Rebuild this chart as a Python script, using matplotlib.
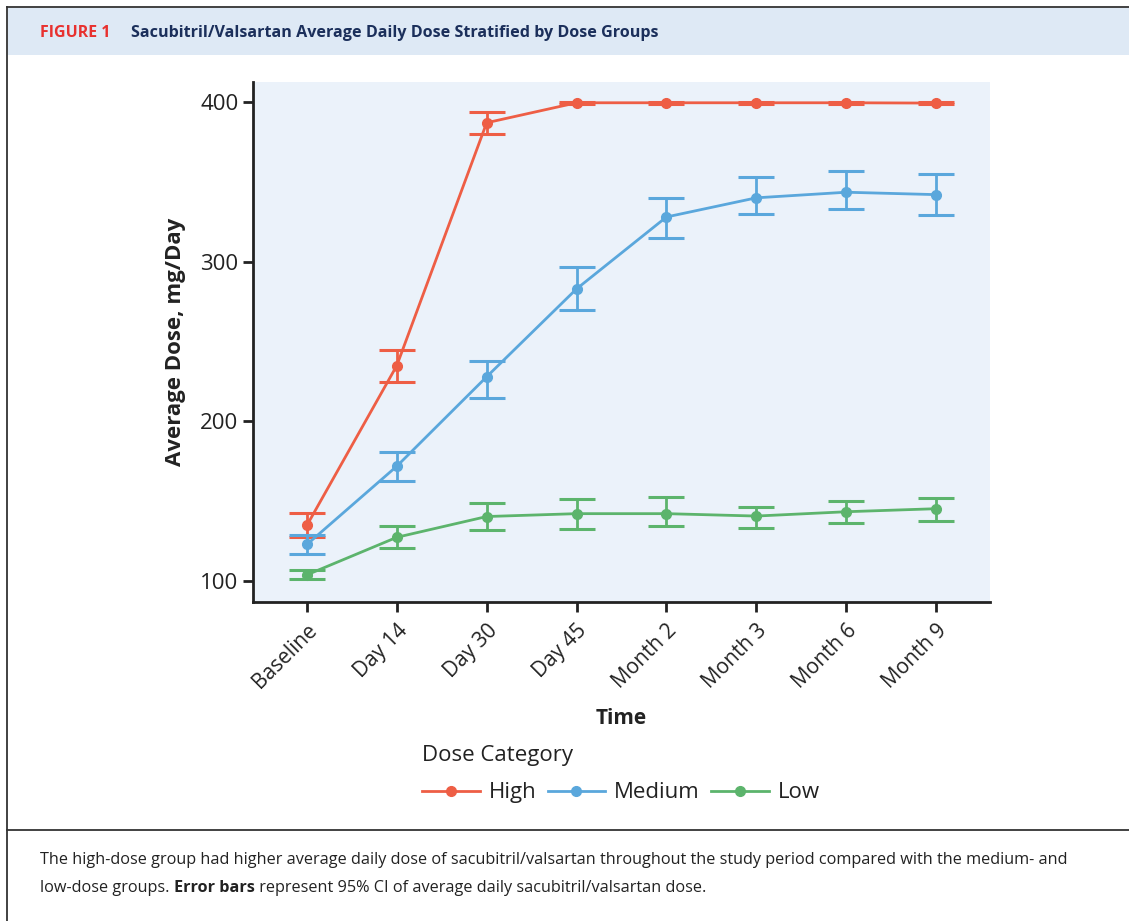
import matplotlib.pyplot as plt
from matplotlib.lines import Line2D
from matplotlib.patches import Rectangle

plt.rcParams['font.family'] = ['Open Sans', 'DejaVu Sans']

timepoints = ["Baseline", "Day 14", "Day 30", "Day 45", "Month 2", "Month 3", "Month 6", "Month 9"]

high_mean = [135, 235, 387, 399.5, 399.5, 399.5, 399.5, 399.3]
high_lo = [128, 225, 380, 398.8, 398.8, 398.8, 398.8, 398.6]
high_hi = [143, 245, 394, 400.2, 400.2, 400.2, 400.2, 400.0]

medium_mean = [123, 172, 228, 283, 328, 340, 343.5, 342]
medium_lo = [117, 163, 215, 270, 315, 330, 333, 329.5]
medium_hi = [129, 181, 238, 297, 340, 353, 356.5, 355]

low_mean = [104, 127.5, 140.5, 142.3, 142.3, 140.8, 143.5, 145.4]
low_lo = [101.3, 121, 132, 133, 134.8, 133.5, 136.2, 137.8]
low_hi = [107, 134.3, 149, 151.4, 152.5, 146.7, 150.2, 152.2]

series = [
    ("High", high_mean, high_lo, high_hi, "#EE5E45"),
    ("Medium", medium_mean, medium_lo, medium_hi, "#5AA7DC"),
    ("Low", low_mean, low_lo, low_hi, "#5CB46C"),
]

fig = plt.figure(figsize=(11.29, 9.21), dpi=100)

# frame and header band
W, H = 1129, 921
def fx(px):
    return px / W
def fy(py):
    return 1 - py / H

fig.patches.append(Rectangle((fx(8), fy(55)), 1, fy(8) - fy(55), transform=fig.transFigure,
                             facecolor="#DEE9F5", edgecolor="none", zorder=0))
for l in [Line2D([fx(7), 1], [fy(7), fy(7)]),
          Line2D([fx(7), fx(7)], [fy(7), 0]),
          Line2D([fx(7), 1], [fy(830), fy(830)])]:
    l.set_transform(fig.transFigure)
    l.set_color("#333333")
    l.set_linewidth(1.3)
    fig.lines.append(l)

fig.text(fx(40), fy(33), "FIGURE 1", color="#E8312F", fontsize=11.5, fontweight="bold",
         va="center", ha="left")
fig.text(fx(131), fy(33), "Sacubitril/Valsartan Average Daily Dose Stratified by Dose Groups",
         color="#1B2F5B", fontsize=11.6, fontweight="bold", va="center", ha="left")

ax = fig.add_axes([fx(253), fy(602), fx(990) - fx(253), fy(82) - fy(602)])
ax.set_facecolor("#EBF2FA")

x = list(range(len(timepoints)))
handles = []
for name, mean, lo, hi, color in series:
    err = [[m - a for m, a in zip(mean, lo)], [b - m for m, b in zip(mean, hi)]]
    ax.errorbar(x, mean, yerr=err, fmt="none", ecolor=color, elinewidth=2, capsize=13,
                capthick=2.2, zorder=2)
    h, = ax.plot(x, mean, color=color, lw=2, marker="o", markersize=7, zorder=3)
    handles.append(h)

ax.set_xlim(-0.6, 7.6)
ax.set_ylim(87, 412.5)
ax.set_yticks([100, 200, 300, 400])
ax.set_xticks(x)
ax.set_xticklabels(timepoints, rotation=45, ha="right", rotation_mode="anchor", fontsize=15,
                   color="#222222")
ax.tick_params(axis="y", labelsize=16, labelcolor="#222222", length=7, width=2, color="#222222")
ax.tick_params(axis="x", length=7, width=2, color="#222222", pad=6)
for s in ["top", "right"]:
    ax.spines[s].set_visible(False)
for s in ["left", "bottom"]:
    ax.spines[s].set_linewidth(2)
    ax.spines[s].set_color("#222222")

ax.set_ylabel("Average Dose, mg/Day", fontsize=16, fontweight="bold", color="#222222", labelpad=10)
ax.set_xlabel("Time", fontsize=15, fontweight="bold", color="#222222", labelpad=11)

leg = fig.legend(handles, ["High", "Medium", "Low"], loc="center", bbox_to_anchor=(fx(621), fy(774)),
                 ncol=3, frameon=False, title="Dose Category", fontsize=16, title_fontsize=16,
                 alignment="left", handlelength=2.6, handletextpad=0.4, columnspacing=0.5,
                 labelspacing=0.75, borderpad=0.1)
for t in leg.get_texts():
    t.set_color("#222222")
leg.get_title().set_color("#222222")

# caption
cap_kw = dict(fontsize=11.7, color="#222222", va="center", ha="left")
fig.text(fx(40), fy(860), "The high-dose group had higher average daily dose of sacubitril/valsartan "
         "throughout the study period compared with the medium- and", **cap_kw)
renderer = fig.canvas.get_renderer()
t1 = fig.text(fx(40), fy(888), "low-dose groups. ", **cap_kw)
bb = t1.get_window_extent(renderer)
t2 = fig.text(bb.x1 / W, fy(888), "Error bars", fontweight="bold", **cap_kw)
bb2 = t2.get_window_extent(renderer)
fig.text(bb2.x1 / W, fy(888), " represent 95% CI of average daily sacubitril/valsartan dose.", **cap_kw)

fig.savefig("out.png", dpi=100)
